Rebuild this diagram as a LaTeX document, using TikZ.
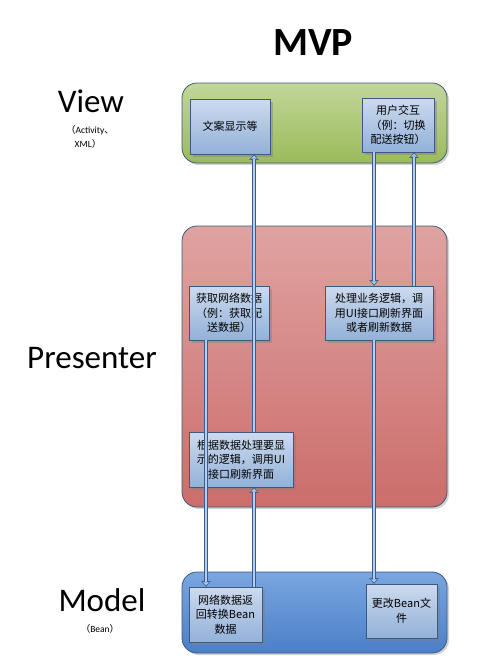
\documentclass[tikz,border=0pt]{standalone}
\usepackage{fontspec}
\setmainfont{Carlito}
\newfontfamily\cjk{Noto Sans CJK SC}
\usetikzlibrary{arrows.meta,shadows}
\definecolor{greenTop}{HTML}{C2D69A}
\definecolor{greenBot}{HTML}{9BBB59}
\definecolor{redTop}{HTML}{DFA3A1}
\definecolor{redBot}{HTML}{CB6D6B}
\definecolor{blueTop}{HTML}{7AA6E0}
\definecolor{blueBot}{HTML}{4B7FC8}
\definecolor{boxTop}{HTML}{CCDAEE}
\definecolor{boxBot}{HTML}{93B1D8}
\definecolor{edgeDark}{HTML}{3A5A80}
\definecolor{arrowLine}{HTML}{3B5E8E}
\definecolor{arrowFill}{HTML}{B4CDEE}
\tikzset{
  container/.style={draw=edgeDark, line width=0.8pt, rounded corners=15pt,
    minimum width=265pt, inner sep=0pt,
    drop shadow={shadow xshift=2pt, shadow yshift=-2pt, opacity=0.35}},
  infobox/.style={draw=edgeDark, line width=0.8pt, top color=boxTop, bottom color=boxBot,
    inner sep=1pt, align=center, font=\cjk\fontsize{11}{14.5}\selectfont,
    drop shadow={shadow xshift=2.5pt, shadow yshift=-2.5pt, opacity=0.45}},
  layer/.style={font=\fontsize{33}{36}\selectfont, anchor=base},
  sublabel/.style={font=\fontsize{9.5}{11}\selectfont, anchor=base},
  conn/.style={draw=arrowFill, line width=2.6pt,
    -{Triangle[width=5.5pt,length=3pt,line width=0.1pt]}, shorten >=1.3pt,
    preaction={draw=arrowLine, line width=4.8pt, shorten >=0pt,
      -{Triangle[width=9pt,length=5.5pt,line width=0.1pt]}}}
}
\begin{document}
\begin{tikzpicture}[x=1pt,y=-1pt]
\useasboundingbox (0,0) rectangle (481,672);

% titles and layer labels
\node[font=\bfseries\fontsize{40}{44}\selectfont, anchor=base] (title) at (313,55) {MVP};
\node[layer] (lview) at (91,112) {View};
\node[sublabel] (lview1) at (90,133) {{\cjk （}Activity{\cjk 、}};
\node[sublabel] (lview2) at (88,147) {XML{\cjk ）}};
\node[layer] (lpres) at (92,368) {Presenter};
\node[layer] (lmodel) at (102,611) {Model};
\node[sublabel] (lmodel1) at (100,632) {{\cjk （}Bean{\cjk ）}};

% containers
\node[container, minimum height=80pt, top color=greenTop, bottom color=greenBot] (viewC) at (314.5,123) {};
\node[container, minimum height=281pt, top color=redTop, bottom color=redBot] (presC) at (314.5,366.5) {};
\node[container, minimum height=81pt, top color=blueTop, bottom color=blueBot] (modelC) at (314.5,612.5) {};

% boxes
\node[infobox, minimum width=80pt, minimum height=55pt] (wenan) at (230,126.5) {文案显示等};
\node[infobox, minimum width=72pt, minimum height=54pt] (yonghu) at (398,125) {用户交互\\（例：切换\\配送按钮）};
\node[infobox, minimum width=80pt, minimum height=54pt] (huoqu) at (229,313) {获取网络数据\\（例：获取配\\送数据）};
\node[infobox, minimum width=108pt, minimum height=54pt] (chuli) at (379,313) {处理业务逻辑，调\\用UI接口刷新界面\\或者刷新数据};
\node[infobox, minimum width=104pt, minimum height=55pt] (genju) at (241,459.5) {根据数据处理要显\\示的逻辑，调用UI\\接口刷新界面};
\node[infobox, minimum width=73pt, minimum height=55pt] (wangluo) at (225.5,614.5) {网络数据返\\回转换Bean\\数据};
\node[infobox, minimum width=71pt, minimum height=54pt] (genggai) at (401.5,611) {更改Bean文\\件};

% connector columns
\coordinate (xA) at (254,0);
\coordinate (xB) at (206,0);
\coordinate (xC) at (374,0);
\coordinate (xD) at (414,0);

% connectors
\draw[conn] (genju.north -| xA) -- (wenan.south -| xA);
\draw[conn] (wangluo.north -| xA) -- (genju.south -| xA);
\draw[conn] (huoqu.south -| xB) -- (wangluo.north -| xB);
\draw[conn] (yonghu.south -| xC) -- (chuli.north -| xC);
\draw[conn] (chuli.north -| xD) -- (yonghu.south -| xD);
\draw[conn] (chuli.south -| xC) -- (genggai.north -| xC);
\end{tikzpicture}
\end{document}
